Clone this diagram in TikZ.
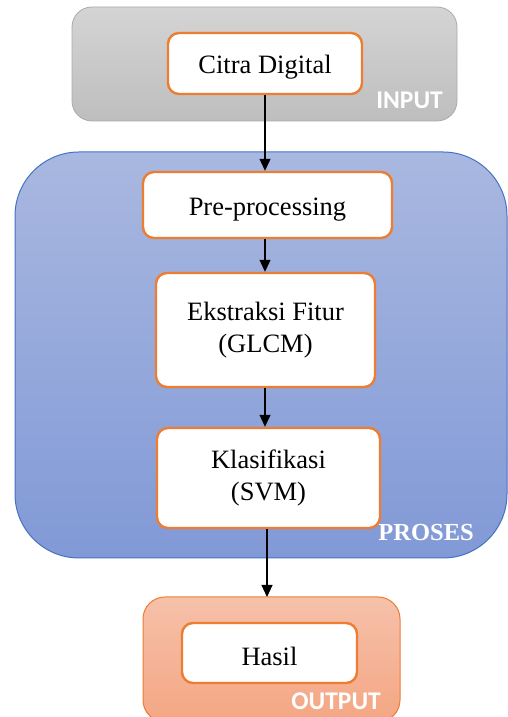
\documentclass[tikz,border=0pt]{standalone}
\usepackage{fontspec}
\setmainfont{Liberation Serif}
\newfontfamily\labelsans{Carlito}
\usetikzlibrary{arrows.meta}
\definecolor{stepline}{HTML}{ED7D31}
\definecolor{grayA}{HTML}{D4D4D4}
\definecolor{grayB}{HTML}{BEBEBE}
\definecolor{grayline}{HTML}{AAAAAA}
\definecolor{blueA}{HTML}{A9B8E0}
\definecolor{blueB}{HTML}{8199D6}
\definecolor{blueline}{HTML}{4472C4}
\definecolor{orangeA}{HTML}{F6C1AA}
\definecolor{orangeB}{HTML}{F4A683}
\tikzset{
  x=1pt, y=1pt,
  stepbox/.style={draw=stepline, line width=2.4pt, fill=white, rounded corners=11pt,
    align=center, font=\fontsize{26.5}{31.5}\selectfont, inner sep=0pt},
  oneline/.style={text height=26pt},
  sanslabel/.style={text=white, font=\labelsans\bfseries\fontsize{25.5}{30}\selectfont, anchor=base east, inner sep=0pt},
  flow/.style={-{Triangle[length=12pt,width=11pt]}, line width=1.1pt, black}
}
\begin{document}
\begin{tikzpicture}
\useasboundingbox (0,0) rectangle (508,717);

% group panels (y measured up from the bottom edge)
\shade[top color=grayA, bottom color=grayB, draw=grayline, line width=0.8pt, rounded corners=20pt]
  (72,596) rectangle (457,710);
\shade[top color=blueA, bottom color=blueB, draw=blueline, line width=1pt, rounded corners=64pt]
  (15,159) rectangle (507,565);
\shade[top color=orangeA, bottom color=orangeB, draw=stepline, line width=1pt, rounded corners=22pt]
  (143,-5) rectangle (400,120);

% group labels
\node[sanslabel] (lin) at (443,608) {INPUT};
\node[sanslabel, font=\bfseries\fontsize{24.5}{30}\selectfont] (lpr) at (474,176) {PROSES};
\node[sanslabel] (lout) at (381,8) {OUTPUT};

% process steps
\node[stepbox, oneline, minimum width=194pt, minimum height=61pt] (citra) at (265,653.5) {Citra Digital};
\node[stepbox, oneline, minimum width=249pt, minimum height=66pt] (pre) at (267.5,512) {Pre-processing};
\node[stepbox, minimum width=219pt, minimum height=114pt] (fitur) at (265.5,387) {Ekstraksi Fitur\\(GLCM)};
\node[stepbox, minimum width=223pt, minimum height=100pt] (klas) at (268.5,239) {Klasifikasi\\(SVM)};
\node[stepbox, oneline, minimum width=175pt, minimum height=60pt] (hasil) at (269.5,64) {Hasil};
\coordinate (outtop) at (267,120);

% connectors
\draw[flow] (citra.south -| 265,0) -- (pre.north -| 265,0);
\draw[flow] (pre.south -| 265,0) -- (fitur.north -| 265,0);
\draw[flow] (fitur.south -| 265,0) -- (klas.north -| 265,0);
\draw[flow] (klas.south -| outtop) -- (outtop);
\end{tikzpicture}
\end{document}
